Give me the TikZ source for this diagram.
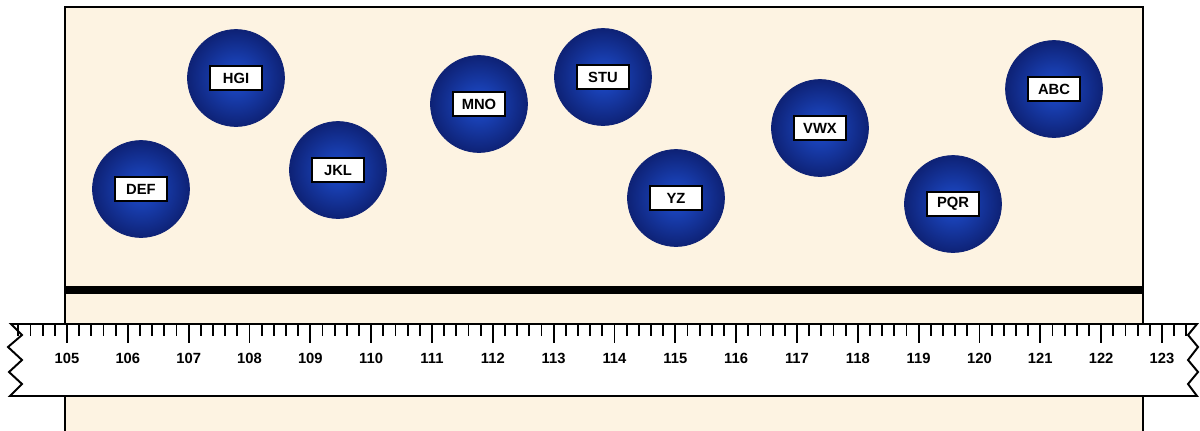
\documentclass[tikz,border=0pt]{standalone}
\usepackage{fontspec}
\setmainfont{Liberation Sans}
\usepackage{tikz}
\usetikzlibrary{positioning}

\definecolor{paper}{RGB}{253,243,226}
\definecolor{ballin}{RGB}{30,78,208}
\definecolor{ballout}{RGB}{14,34,118}

\tikzset{
	ball/.style={circle, minimum size=2.42cm, inner sep=0pt, inner color=ballin, outer color=ballout, draw=ballout, line width=0.6pt},
	tag/.style={draw=black, line width=1.4pt, fill=white, minimum width=1.32cm, minimum height=0.62cm, inner sep=0pt, font=\fontsize{10.5}{12}\selectfont\bfseries},
	num/.style={font=\fontsize{10.5}{12}\selectfont\bfseries}
}

\begin{document}
\begin{tikzpicture}[x=0.025cm,y=-0.025cm]
		\def \xZero {67}
		\def \unit {60.83}
		\clip (0,0) rectangle (1200,430);
		% backdrop
		\draw[fill=paper, line width=1.4pt] (65,7) rectangle (1143,440);
		\draw[line width=0.2cm] (65,290) -- (1143,290);
		% balls
		\foreach \id/\bx/\by/\txt in {hgi/236/78/HGI, def/141/189/DEF, jkl/338/170/JKL, mno/479/104/MNO, stu/603/77/STU, yz/676/198/YZ, vwx/820/128/VWX, pqr/953/204/PQR, abc/1054/89/ABC}
		{
			\node[ball] (\id) at (\bx,\by) {};
			\node[tag] (\id-tag) at (\id) {\txt};
		}
		% ruler
		\draw[fill=white, line width=1.4pt, line join=miter] (11,324) -- (1197,324) -- (1188,335) -- (1198,347) -- (1188,360) -- (1198,372) -- (1188,384) -- (1197,396) -- (10,396) -- (22,384) -- (9,372) -- (22,360) -- (8,347) -- (22,335) -- cycle;
		\foreach \i in {-4,...,92}
		{
			\pgfmathsetmacro\tx{\xZero+\i*\unit/5}
			\pgfmathtruncatemacro\r{mod(\i+100,5)}
			\ifnum\r=0
				\draw[line width=1.3pt] (\tx,324) -- (\tx,343);
			\else
				\draw[line width=1.3pt] (\tx,324) -- (\tx,336);
			\fi
		}
		\foreach \n [count=\k from 0] in {105,...,123}
		{
			\node[num] (n\n) at (\xZero+\k*\unit,358) {\n};
		}
\end{tikzpicture}
\end{document}
